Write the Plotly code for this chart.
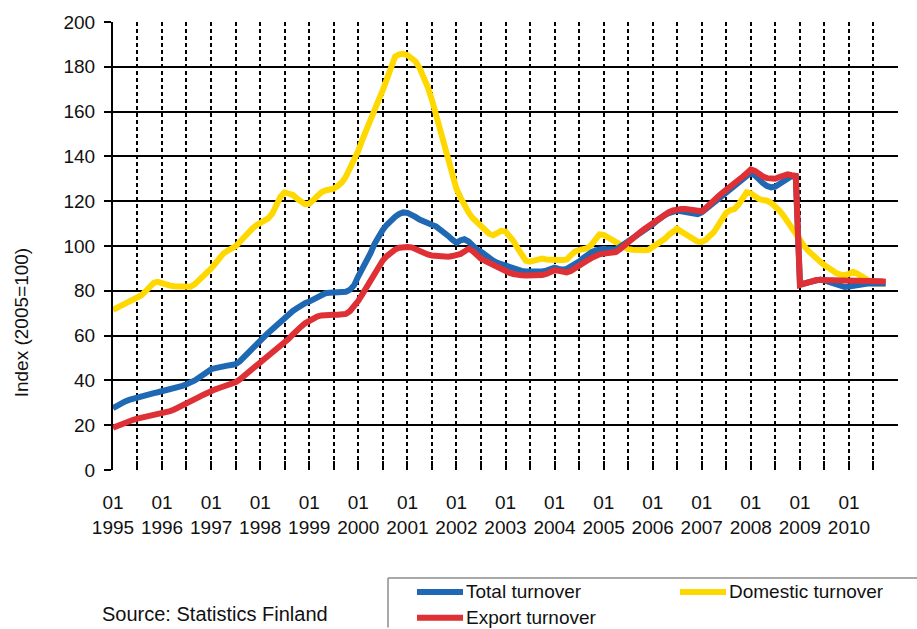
import plotly.graph_objects as go
import pandas as pd

# Monthly data, Jan 1995 .. Oct 2010 (index 2005=100)
start_month = "1995-01-01"

total_turnover = [
    27.6, 28.8, 29.8, 30.6, 31.3, 31.9, 32.4, 33.0, 33.5, 33.9, 34.3, 34.7,  # 1995
    35.1, 35.5, 35.9, 36.4, 37.0, 37.6, 38.3, 39.0, 40.0, 41.2, 42.5, 43.8,  # 1996
    45.0, 45.5, 46.0, 46.4, 46.6, 46.9, 47.2, 48.5, 50.2, 52.0, 53.8, 55.8,  # 1997
    57.8, 59.5, 61.2, 63.0, 64.6, 66.2, 67.8, 69.5, 71.0, 72.2, 73.5, 74.5,  # 1998
    75.2, 76.3, 77.5, 78.6, 78.9, 79.1, 79.3, 79.4, 79.5, 79.6, 80.5, 82.5,  # 1999
    86.5, 89.8, 93.0, 96.8, 101.0, 104.5, 107.2, 109.5, 111.5, 113.0, 114.3, 115.0,  # 2000
    114.8, 114.2, 113.0, 111.8, 110.8, 110.2, 109.5, 108.8, 107.5, 106.0, 104.5, 102.8,  # 2001
    101.5, 102.5, 103.0, 102.0, 100.0, 98.5, 97.5, 96.0, 94.5, 93.5, 92.5, 91.8,  # 2002
    91.0, 90.3, 89.7, 89.2, 88.9, 88.6, 88.5, 88.4, 88.5, 88.6, 89.0, 89.6,  # 2003
    90.3, 89.8, 89.4, 89.8, 90.8, 91.8, 93.0, 94.6, 96.2, 97.2, 98.0, 98.6,  # 2004
    98.8, 98.5, 98.2, 98.4, 99.6, 100.8, 102.0, 103.2, 104.4, 105.6, 106.8, 108.0,  # 2005
    109.6, 111.3, 112.8, 113.8, 114.7, 115.4, 115.8, 115.5, 115.0, 114.6, 114.3, 114.2,  # 2006
    115.0, 116.5, 118.0, 119.8, 121.5, 123.0, 124.6, 126.0, 127.6, 129.0, 130.3, 131.5,  # 2007
    132.7, 131.5, 129.5, 128.0, 126.8, 126.2, 126.5, 127.8, 129.5, 130.8, 131.3, 131.0,  # 2008
    83.5, 83.3, 83.8, 84.3, 84.8, 85.0, 84.6, 84.0, 83.3, 82.6, 82.0, 81.7,  # 2009
    81.9, 82.3, 82.8, 83.2, 83.3, 83.3, 83.3, 83.4, 83.4, 83.3,  # 2010
]

domestic_turnover = [
    71.5, 72.5, 73.5, 74.5, 75.4, 76.1, 76.8, 78.0, 79.8, 81.8, 83.6, 84.0,  # 1995
    83.3, 82.8, 82.3, 82.0, 81.8, 81.6, 81.4, 81.8, 83.0, 84.6, 86.2, 87.8,  # 1996
    90.0, 92.2, 94.4, 96.6, 97.8, 98.8, 99.8, 101.8, 104.0, 106.2, 107.6, 109.2,  # 1997
    110.2, 111.3, 112.3, 114.5, 118.5, 122.0, 123.9, 123.5, 122.8, 121.2, 119.8, 118.7,  # 1998
    118.8, 120.5, 122.5, 124.0, 124.8, 125.2, 125.6, 126.8, 128.4, 131.0, 134.5, 138.0,  # 1999
    142.5, 147.5, 152.2, 157.0, 161.2, 165.2, 169.5, 174.0, 178.5, 184.5, 185.5, 185.8,  # 2000
    185.2, 184.0, 182.5, 179.5, 175.5, 171.0, 165.5, 159.0, 152.5, 145.5, 138.0, 131.0,  # 2001
    125.5, 121.5, 118.0, 115.0, 112.5, 110.8, 109.2, 107.5, 105.5, 104.8, 105.8, 106.8,  # 2002
    106.5, 104.5, 102.2, 99.0, 96.0, 93.5, 93.0, 93.5, 94.2, 94.4, 94.0, 93.7,  # 2003
    93.7, 93.7, 93.7, 94.0, 95.8, 97.5, 98.2, 98.6, 99.0, 100.5, 103.0, 105.2,  # 2004
    105.0, 103.8, 102.8, 102.0, 100.8, 99.5, 98.6, 98.3, 98.1, 98.0, 98.1, 98.3,  # 2005
    99.5, 100.8, 101.8, 103.2, 105.0, 106.8, 107.7, 106.5, 105.4, 104.0, 103.0, 102.0,  # 2006
    101.8, 102.8, 104.5, 106.2, 109.0, 112.0, 114.8, 116.0, 116.5, 118.5, 121.5, 123.9,  # 2007
    123.5, 122.0, 121.0, 120.5, 120.2, 119.2, 117.8, 115.8, 113.5, 110.8, 108.0, 105.0,  # 2008
    102.0, 100.0, 98.0, 96.6, 94.8, 93.0, 91.5, 90.2, 89.0, 87.8, 87.2, 87.0,  # 2009
    87.5, 88.5, 87.8, 86.6, 85.5, 84.3, 83.3, 83.3, 83.3, 83.3,  # 2010
]

export_turnover = [
    18.9, 19.7, 20.5, 21.2, 21.8, 22.4, 22.9, 23.3, 23.7, 24.1, 24.5, 24.8,  # 1995
    25.1, 25.6, 26.3, 27.0, 27.8, 28.7, 29.5, 30.5, 31.5, 32.5, 33.5, 34.5,  # 1996
    35.4, 36.0, 36.6, 37.2, 37.8, 38.4, 39.1, 40.4, 41.9, 43.4, 44.9, 46.4,  # 1997
    47.9, 49.4, 50.9, 52.4, 53.9, 55.3, 56.8, 58.6, 60.5, 62.5, 64.0, 65.5,  # 1998
    66.8, 67.8, 68.5, 69.0, 69.3, 69.3, 69.3, 69.3, 69.4, 69.7, 71.0, 73.0,  # 1999
    75.5, 78.5, 81.5, 84.8, 88.0, 91.0, 93.5, 95.5, 97.2, 98.4, 99.2, 99.6,  # 2000
    99.6, 99.4, 98.6, 97.5, 96.6, 96.2, 95.8, 95.5, 95.2, 95.1, 95.2, 95.5,  # 2001
    95.9, 96.5, 97.5, 98.8, 97.8, 96.0, 94.4, 93.4, 92.4, 91.5, 90.4, 89.3,  # 2002
    88.5, 88.0, 87.5, 87.0, 86.9, 86.8, 86.7, 86.8, 86.9, 87.0, 87.5, 88.3,  # 2003
    89.2, 88.9, 88.5, 88.2, 88.8, 89.8, 91.0, 92.2, 93.5, 94.6, 95.6, 96.3,  # 2004
    96.6, 96.8, 97.0, 97.3, 98.5, 100.2, 102.0, 103.4, 104.8, 106.2, 107.6, 108.9,  # 2005
    110.3, 111.8, 113.2, 114.2, 115.1, 115.9, 116.5, 116.5, 116.5, 116.2, 115.7, 115.2,  # 2006
    115.5, 117.0, 118.8, 120.5, 122.0, 123.6, 125.2, 126.6, 128.0, 129.4, 130.9, 132.4,  # 2007
    134.2, 133.5, 132.0, 131.0, 130.3, 129.8, 130.0, 130.8, 131.6, 132.0, 131.6, 131.3,  # 2008
    82.6, 83.2, 83.8, 84.4, 84.8, 84.8, 84.8, 84.8, 84.8, 84.8, 84.8, 84.8,  # 2009
    84.8, 84.8, 84.8, 84.8, 84.8, 84.7, 84.6, 84.5, 84.3, 84.1,  # 2010
]

years = list(range(1995, 2011))
y_ticks = list(range(0, 201, 20))

months = pd.date_range(start_month, periods=len(total_turnover), freq="MS")

# Tick positions every 6 months; labels only at January
tick_dates = pd.date_range("1995-01-01", "2011-01-01", freq="6MS")
tick_text = []
for d in tick_dates:
    if d.month == 1 and d.year in years:
        tick_text.append(f"01<br>{d.year}")
    else:
        tick_text.append("")

BLUE = "#1f68b4"
YELLOW = "#ffd800"
RED = "#de3035"
FONT = "Liberation Sans, Arial, sans-serif"

fig = go.Figure()
fig.add_trace(go.Scatter(x=months, y=domestic_turnover, mode="lines",
                         line=dict(color=YELLOW, width=6), name="Domestic turnover"))
fig.add_trace(go.Scatter(x=months, y=total_turnover, mode="lines",
                         line=dict(color=BLUE, width=6), name="Total turnover"))
fig.add_trace(go.Scatter(x=months, y=export_turnover, mode="lines",
                         line=dict(color=RED, width=6), name="Export turnover"))

W, H = 917, 629
L, R, T, B = 113, 898, 18, 470


def px(x):
    return (x - L) / (R - L)


def py(y):
    return (B - y) / (B - T)


fig.update_layout(
    width=W, height=H,
    margin=dict(l=L, r=W - R, t=T, b=H - B),
    paper_bgcolor="white", plot_bgcolor="white",
    showlegend=False,
    font=dict(family=FONT, size=19, color="#111"),
)

fig.update_xaxes(
    type="date",
    range=["1995-01-01", "2011-01-01"],
    tickvals=tick_dates, ticktext=tick_text,
    tickangle=0,
    ticks="inside", ticklen=9, tickwidth=1.8, tickcolor="black",
    showgrid=True, gridcolor="black", gridwidth=1.8, griddash="4px,3px",
    showline=False, zeroline=False,
    tickfont=dict(family=FONT, size=19, color="#111"),
    ticklabelstandoff=19,
)
fig.update_yaxes(
    range=[0, 200], tickvals=y_ticks,
    ticks="outside", ticklen=7, tickwidth=1.8, tickcolor="black",
    showgrid=True, gridcolor="black", gridwidth=1.8,
    showline=True, linecolor="black", linewidth=2,
    zeroline=False,
    tickfont=dict(family=FONT, size=19, color="#111"),
    ticklabelstandoff=5,
)

annotations = [
    dict(text="Index (2005=100)", textangle=-90, x=px(21), y=py(322),
         xref="paper", yref="paper", showarrow=False, xanchor="center", yanchor="middle",
         font=dict(family=FONT, size=19, color="#111")),
    dict(text="Source: Statistics Finland", x=px(100), y=py(615),
         xref="paper", yref="paper", showarrow=False, xanchor="left", yanchor="middle",
         font=dict(family=FONT, size=20, color="#111")),
]

legend_items = [
    ("Total turnover", BLUE, 417, 593),
    ("Domestic turnover", YELLOW, 680, 593),
    ("Export turnover", RED, 417, 619),
]
shapes = [
    dict(type="line", xref="paper", yref="paper", x0=px(388), x1=px(917), y0=py(579), y1=py(579),
         line=dict(color="#8c8c8c", width=1.5)),
    dict(type="line", xref="paper", yref="paper", x0=px(388), x1=px(388), y0=py(579), y1=py(629),
         line=dict(color="#8c8c8c", width=1.5)),
]
for name, color, x0, yy in legend_items:
    shapes.append(dict(type="line", xref="paper", yref="paper",
                       x0=px(x0), x1=px(x0 + 46), y0=py(yy), y1=py(yy),
                       line=dict(color=color, width=6)))
    annotations.append(dict(text=name, x=px(x0 + 47), y=py(yy), xref="paper", yref="paper",
                            showarrow=False, xanchor="left", yanchor="middle",
                            font=dict(family=FONT, size=19, color="#111")))

fig.update_layout(annotations=annotations, shapes=shapes)

fig.write_html("out.html",
               config={"displayModeBar": False},
               post_script="document.body.style.margin='0';document.body.style.overflow='hidden';")
